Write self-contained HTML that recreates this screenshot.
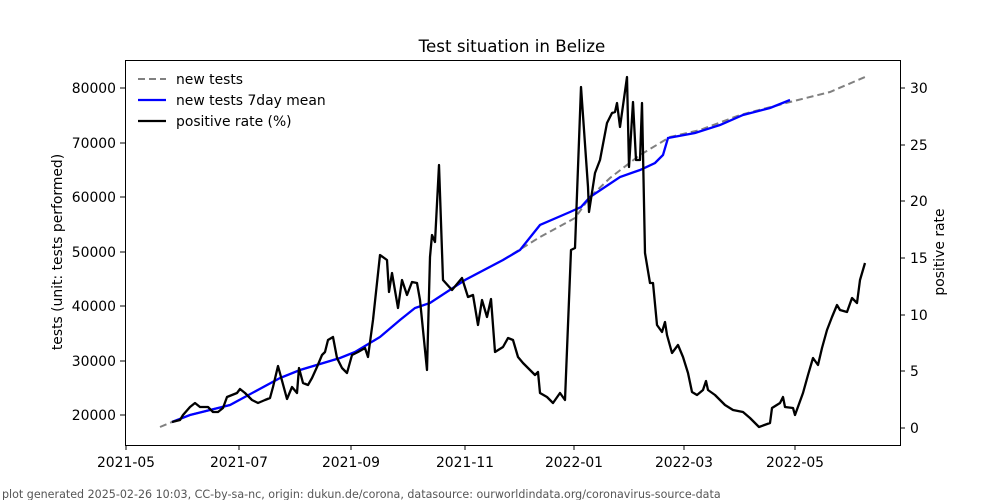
<!DOCTYPE html>
<html><head><meta charset="utf-8"><style>
body{margin:0;background:#fff;width:1000px;height:500px;overflow:hidden;font-family:"DejaVu Sans","Liberation Sans",sans-serif}
</style></head><body>
<svg width="1000" height="500" viewBox="0 0 1000 500" font-family="DejaVu Sans, Liberation Sans, sans-serif">
<rect width="1000" height="500" fill="#fff"/>
<text x="512" y="52" font-size="16.7" text-anchor="middle">Test situation in Belize</text>
<g font-size="13.9" text-anchor="end">
<line x1="125" y1="415" x2="120" y2="415" stroke="#000"/><text x="116" y="420">20000</text>
<line x1="125" y1="361" x2="120" y2="361" stroke="#000"/><text x="116" y="366">30000</text>
<line x1="125" y1="306" x2="120" y2="306" stroke="#000"/><text x="116" y="311">40000</text>
<line x1="125" y1="252" x2="120" y2="252" stroke="#000"/><text x="116" y="257">50000</text>
<line x1="125" y1="197" x2="120" y2="197" stroke="#000"/><text x="116" y="202">60000</text>
<line x1="125" y1="143" x2="120" y2="143" stroke="#000"/><text x="116" y="148">70000</text>
<line x1="125" y1="88" x2="120" y2="88" stroke="#000"/><text x="116" y="93">80000</text>
</g>
<g font-size="13.9">
<line x1="900" y1="428" x2="905" y2="428" stroke="#000"/><text x="910" y="433">0</text>
<line x1="900" y1="371" x2="905" y2="371" stroke="#000"/><text x="910" y="376">5</text>
<line x1="900" y1="315" x2="905" y2="315" stroke="#000"/><text x="910" y="320">10</text>
<line x1="900" y1="258" x2="905" y2="258" stroke="#000"/><text x="910" y="263">15</text>
<line x1="900" y1="201" x2="905" y2="201" stroke="#000"/><text x="910" y="206">20</text>
<line x1="900" y1="145" x2="905" y2="145" stroke="#000"/><text x="910" y="150">25</text>
<line x1="900" y1="88" x2="905" y2="88" stroke="#000"/><text x="910" y="93">30</text>
</g>
<g font-size="13.9" text-anchor="middle">
<line x1="126" y1="445" x2="126" y2="450" stroke="#000"/><text x="126" y="467">2021-05</text>
<line x1="239" y1="445" x2="239" y2="450" stroke="#000"/><text x="239" y="467">2021-07</text>
<line x1="351" y1="445" x2="351" y2="450" stroke="#000"/><text x="351" y="467">2021-09</text>
<line x1="465" y1="445" x2="465" y2="450" stroke="#000"/><text x="465" y="467">2021-11</text>
<line x1="574" y1="445" x2="574" y2="450" stroke="#000"/><text x="574" y="467">2022-01</text>
<line x1="684" y1="445" x2="684" y2="450" stroke="#000"/><text x="684" y="467">2022-03</text>
<line x1="795" y1="445" x2="795" y2="450" stroke="#000"/><text x="795" y="467">2022-05</text>
</g>
<text transform="translate(62,252) rotate(-90)" font-size="13.9" text-anchor="middle">tests (unit: tests performed)</text>
<text transform="translate(944,252) rotate(-90)" font-size="13.9" text-anchor="middle">positive rate</text>
<polyline fill="none" stroke="#808080" stroke-width="2" stroke-dasharray="7,4" points="160,427 172,422 190,415 230,405 280,378 300,370 340,358 355,352 380,337 400,320 415,308 430,303 465,280 503,260 540,237 575,218 590,197 610,178 640,155 670,137 700,130 740,115 790,102 830,92 865,77"/>
<polyline fill="none" stroke="#0000ff" stroke-width="2.3" points="172,422 190,415 230,405 280,378 300,370 340,358 355,352 380,337 400,320 415,308 430,303 465,280 503,260 520,250 540,225 570,212 581,207 590,197 620,177 640,170 655,163 663,155 668,138 695,133 720,125 743,115 770,108 790,100"/>
<polyline fill="none" stroke="#000" stroke-width="2.3" stroke-linejoin="round" points="172,422 180,420 183,415 190,407 195,403 200,407 208,407 213,412 218,412 223,408 227,397 232,395 237,393 240,389 245,393 252,400 258,403 265,400 270,398 273,387 278,366 287,399 292,387 297,393 299,368 303,383 308,385 312,378 317,367 322,355 325,352 328,340 333,337 337,358 342,368 347,373 352,355 358,352 365,348 368,357 373,320 380,255 387,260 389,292 392,273 398,308 402,280 407,295 412,282 417,283 420,300 427,370 430,257 432,235 435,242 439,165 443,280 452,290 462,278 468,297 473,295 478,325 482,300 487,317 491,299 495,352 503,347 508,338 513,340 518,357 523,363 535,375 538,372 540,393 547,397 553,403 560,393 565,400 571,250 575,248 581,87 588,187 589,212 595,173 600,160 607,123 612,113 615,112 617,103 620,127 627,77 629,167 633,102 636,160 640,160 642,103 645,253 650,283 653,283 657,325 662,332 665,322 667,335 672,353 678,345 683,357 688,373 692,392 697,395 703,390 706,381 708,390 715,395 725,405 733,410 743,412 750,418 759,427 770,423 772,408 780,403 783,397 785,407 793,408 795,415 803,393 808,375 813,358 818,365 822,348 827,330 832,317 837,305 840,310 847,312 852,298 857,303 860,280 865,263"/>
<rect x="125.5" y="60.5" width="775" height="385" fill="none" stroke="#000" stroke-width="1"/>
<g font-size="13.9">
<line x1="138" y1="79" x2="166" y2="79" stroke="#808080" stroke-width="2" stroke-dasharray="7,4"/><text x="176" y="84">new tests</text>
<line x1="138" y1="100" x2="166" y2="100" stroke="#0000ff" stroke-width="2.3"/><text x="176" y="105">new tests 7day mean</text>
<line x1="138" y1="121" x2="166" y2="121" stroke="#000" stroke-width="2.3"/><text x="176" y="126">positive rate (%)</text>
</g>
<text x="2" y="498" font-size="11.1" fill="#555">plot generated 2025-02-26 10:03, CC-by-sa-nc, origin: dukun.de/corona, datasource: ourworldindata.org/coronavirus-source-data</text>
</svg>
</body></html>
